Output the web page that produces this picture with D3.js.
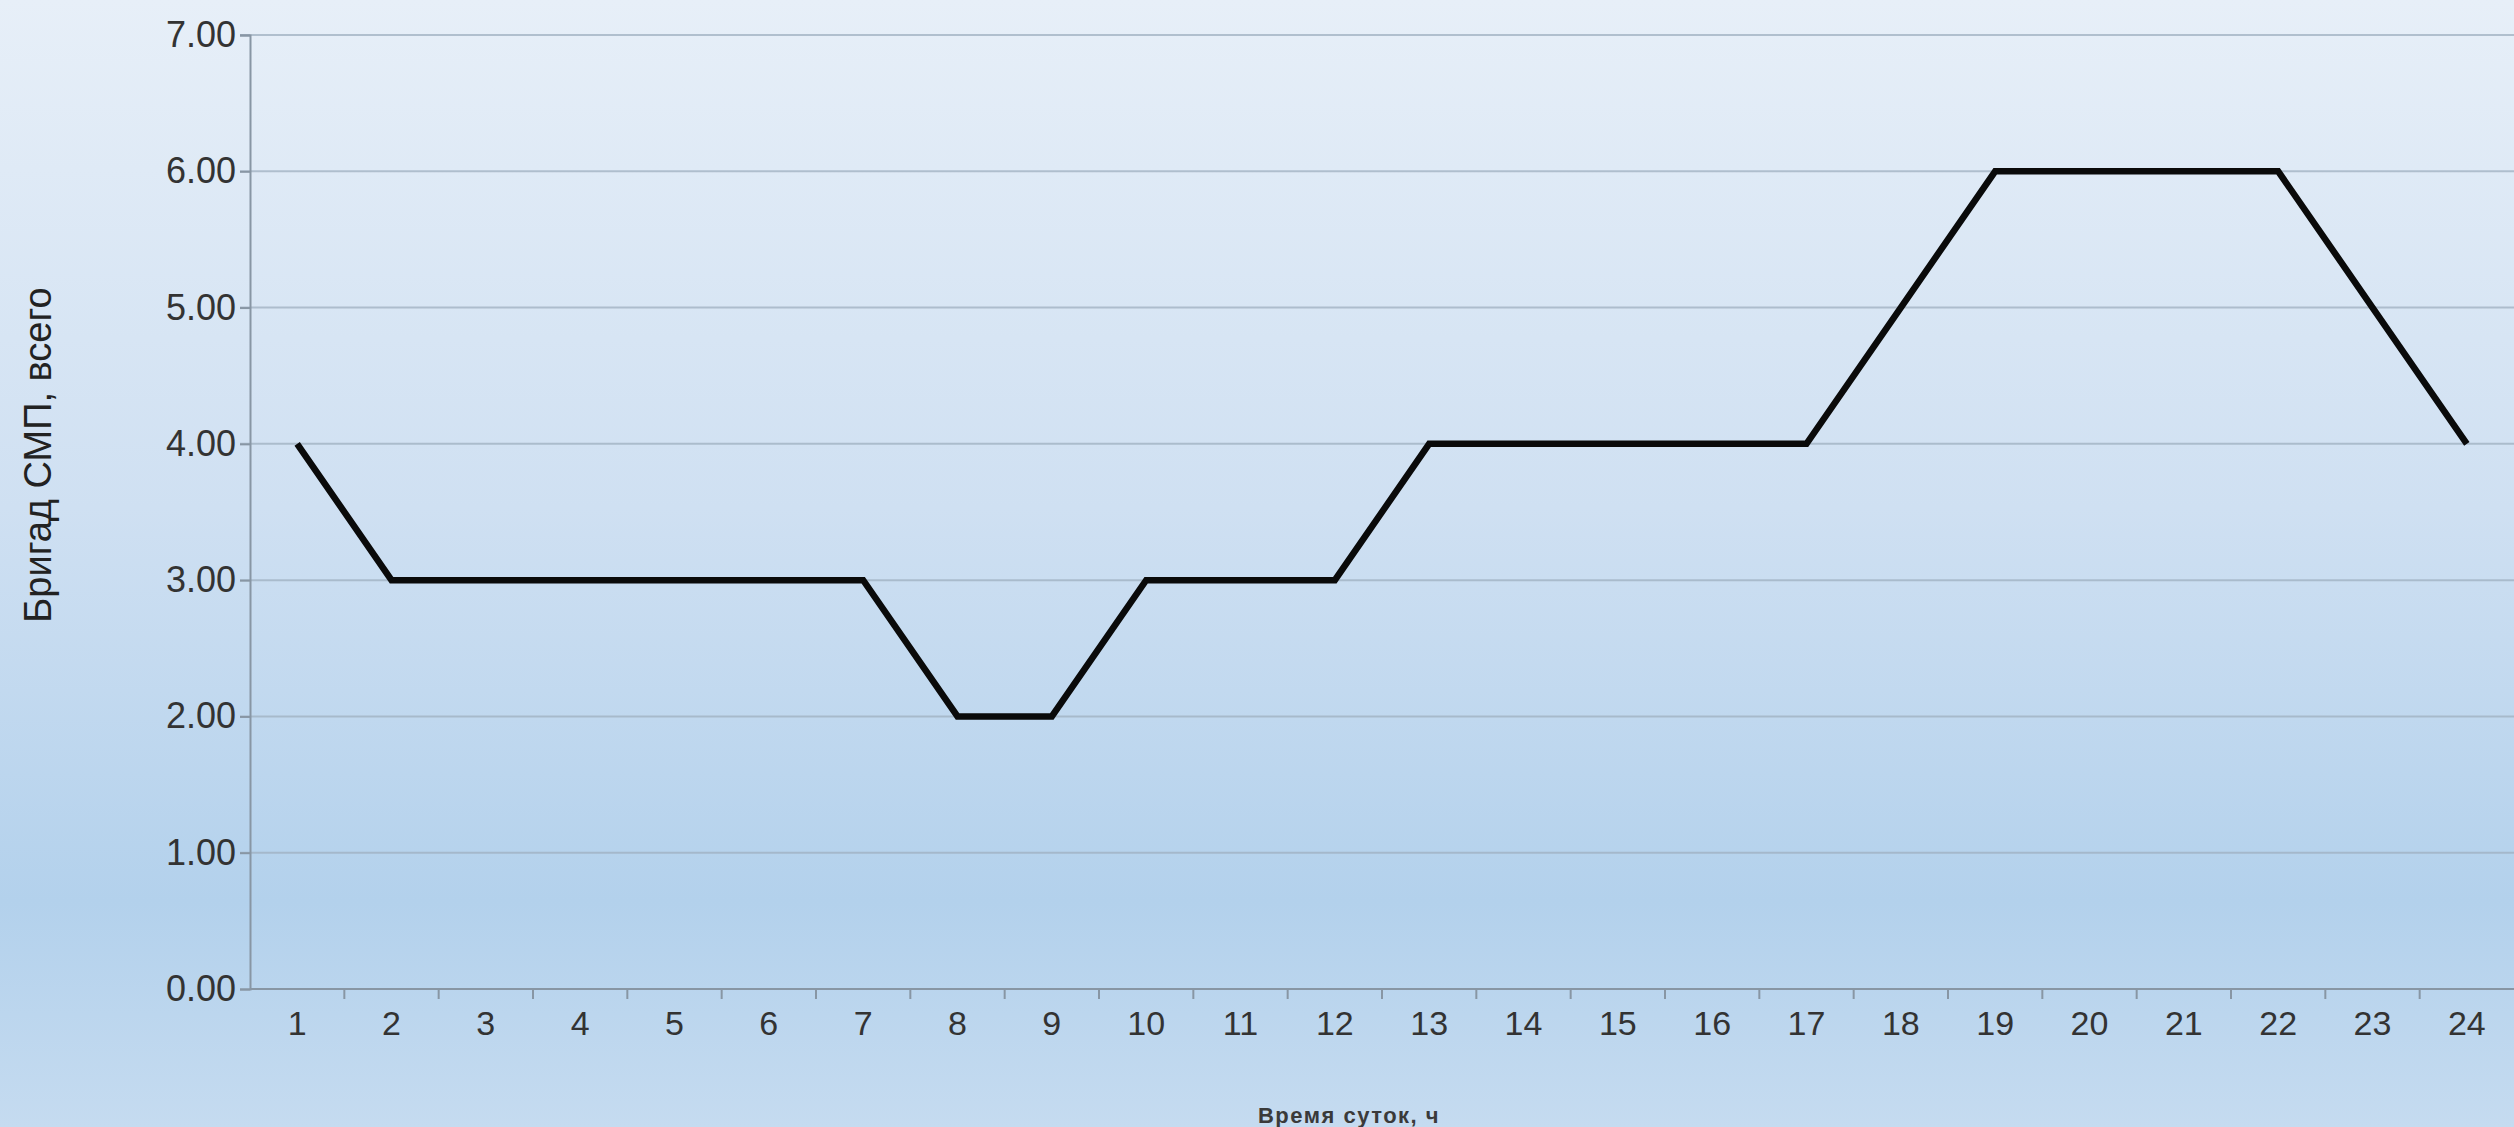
<!DOCTYPE html>
<html>
<head>
<meta charset="utf-8">
<script src="https://cdn.jsdelivr.net/npm/d3@7"></script>
<style>
  html, body { margin: 0; padding: 0; overflow: hidden; }
  svg { display: block; }
</style>
</head>
<body>
<svg id="chart"></svg>
<script>
// Hours of the day and number of ambulance (СМП) crews on duty
const hours = ["1","2","3","4","5","6","7","8","9","10","11","12","13","14","15","16","17","18","19","20","21","22","23","24"];
const crews = [4,3,3,3,3,3,3,2,2,3,3,3,4,4,4,4,4,5,6,6,6,6,5,4];
const yTicks = [0,1,2,3,4,5,6,7];
const yTitle = "Бригад СМП, всего";
const xTitle = "Время суток, ч";

const W = 2514, H = 1127;
const margin = { top: 35, right: 0, bottom: 138, left: 250 };

const svg = d3.select("#chart").attr("width", W).attr("height", H);

// background gradient
const defs = svg.append("defs");
const grad = defs.append("linearGradient").attr("id", "bg")
  .attr("x1", 0).attr("y1", 0).attr("x2", 0).attr("y2", 1);
grad.append("stop").attr("offset", "0%").attr("stop-color", "#e7eff8");
grad.append("stop").attr("offset", "45%").attr("stop-color", "#cfe0f2");
grad.append("stop").attr("offset", "80%").attr("stop-color", "#b3d1ec");
grad.append("stop").attr("offset", "100%").attr("stop-color", "#c5dbf0");
svg.append("rect").attr("width", W).attr("height", H).attr("fill", "url(#bg)");

const x = d3.scaleBand().domain(hours).range([margin.left, W - margin.right]);
const y = d3.scaleLinear().domain([0, 7]).range([H - margin.bottom, margin.top]);

// horizontal grid lines
svg.append("g").selectAll("line").data(yTicks.slice(1)).join("line")
  .attr("x1", margin.left - 10).attr("x2", W)
  .attr("y1", d => y(d)).attr("y2", d => y(d))
  .attr("stroke", "#9fb0c0").attr("stroke-width", 2).attr("opacity", 0.75);

// y axis
const yAxis = svg.append("g").attr("transform", `translate(${margin.left},0)`)
  .call(d3.axisLeft(y).tickValues(yTicks).tickFormat(d3.format(".2f")).tickSize(10).tickPadding(4));
yAxis.select(".domain").attr("stroke", "#8896a4").attr("stroke-width", 2);
yAxis.selectAll(".tick line").attr("stroke", "#8896a4").attr("stroke-width", 2);
yAxis.selectAll("text").attr("font-family", "Liberation Sans, Arial, sans-serif")
  .attr("font-size", 36).attr("fill", "#333");

// x axis with ticks at band boundaries
const xAxisG = svg.append("g").attr("transform", `translate(0,${y(0)})`);
xAxisG.append("line").attr("x1", margin.left).attr("x2", W)
  .attr("stroke", "#8896a4").attr("stroke-width", 2);
xAxisG.selectAll(".bt").data(hours.slice(1)).join("line").attr("class", "bt")
  .attr("x1", d => x(d)).attr("x2", d => x(d)).attr("y1", 0).attr("y2", 10)
  .attr("stroke", "#8896a4").attr("stroke-width", 2);
xAxisG.selectAll("text").data(hours).join("text")
  .attr("x", d => x(d) + x.bandwidth() / 2).attr("y", 34)
  .attr("dy", "0.35em").attr("text-anchor", "middle")
  .attr("font-family", "Liberation Sans, Arial, sans-serif")
  .attr("font-size", 34).attr("fill", "#333").text(d => d);

// data line
const line = d3.line()
  .x((d, i) => x(hours[i]) + x.bandwidth() / 2)
  .y(d => y(d));
svg.append("path").datum(crews)
  .attr("d", line).attr("fill", "none")
  .attr("stroke", "#0a0a0a").attr("stroke-width", 6.5)
  .attr("stroke-linejoin", "miter");

// axis titles
svg.append("text")
  .attr("transform", `translate(38,455) rotate(-90)`)
  .attr("text-anchor", "middle").attr("dy", "0.35em")
  .attr("font-family", "Liberation Sans, Arial, sans-serif")
  .attr("font-size", 38).attr("fill", "#222").text(yTitle);

svg.append("text")
  .attr("x", 1349).attr("y", 1115).attr("dy", "0.35em")
  .attr("text-anchor", "middle")
  .attr("font-family", "Liberation Sans, Arial, sans-serif")
  .attr("font-weight", "bold").attr("letter-spacing", 1.5)
  .attr("font-size", 22).attr("fill", "#3a3a3a").text(xTitle);
</script>
</body>
</html>
